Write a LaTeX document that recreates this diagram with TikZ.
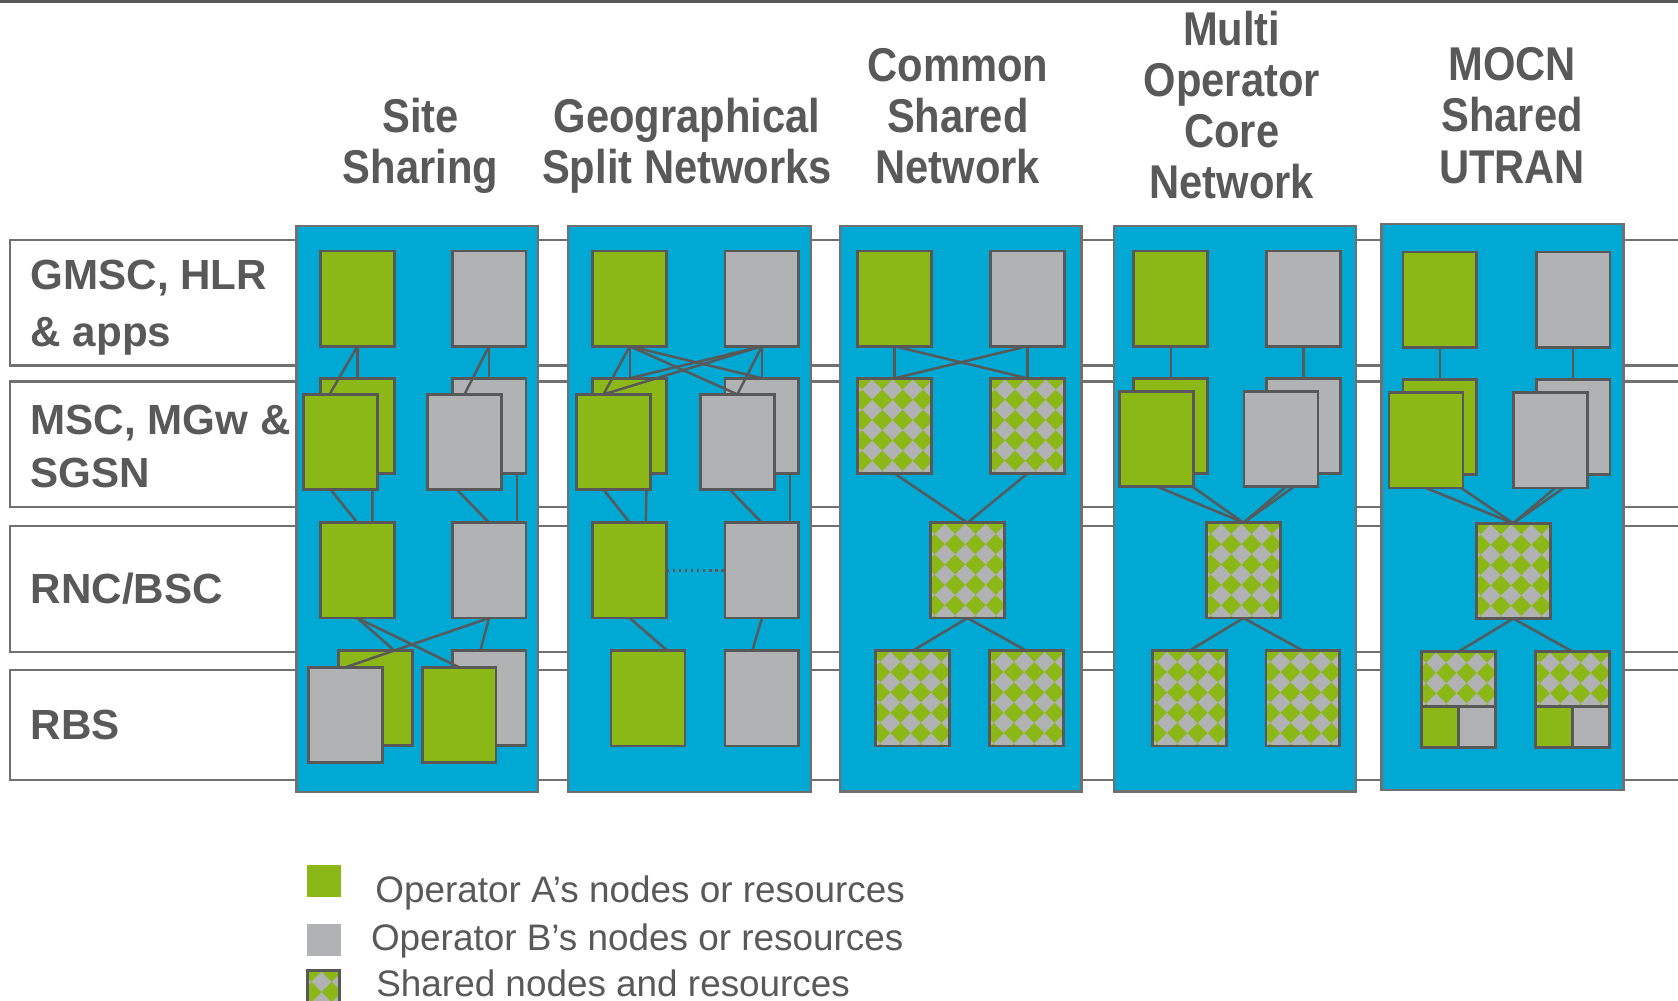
\documentclass[tikz,border=0pt]{standalone}
\usepackage{fontspec}
\setmainfont{Liberation Sans}
\newfontfamily\headfont[FakeStretch=0.88]{Liberation Sans}
\usetikzlibrary{positioning,calc}
\definecolor{opgreen}{RGB}{139,184,23}
\definecolor{opgrey}{RGB}{177,178,180}
\definecolor{panelblue}{RGB}{0,168,212}
\definecolor{edgegrey}{RGB}{88,88,88}
\definecolor{textgrey}{RGB}{89,89,89}
\definecolor{bandgrey}{RGB}{112,112,112}
\tikzset{
  unitA/.style={draw=edgegrey, fill=opgreen, line width=0.75pt,
                minimum width=0.69cm, minimum height=0.89cm,
                inner sep=0pt, outer sep=0pt},
  unitB/.style={unitA, fill=opgrey},
  unitS/.style={unitA, fill=opgrey,
    path picture={
      \foreach \i in {0,...,4}
        \foreach \j in {0,...,5}
          \fill[opgreen] ([xshift=\i*0.19cm+0.04cm, yshift=-\j*0.19cm-0.01cm]path picture bounding box.north west)
            +(-0.094cm,0) -- +(0,0.094cm) -- +(0.094cm,0) -- +(0,-0.094cm) -- cycle;
    }},
  halfunit/.style={minimum width=0.345cm, minimum height=0.39cm},
  link/.style={draw=edgegrey, line width=0.65pt},
  band/.style={draw=bandgrey, fill=white, line width=0.55pt},
  panel/.style={draw=bandgrey, fill=panelblue, line width=0.6pt},
  head/.style={text=textgrey, align=center, inner sep=0pt,
               font=\headfont\bfseries\fontsize{12.6}{13.6}\selectfont},
  rowlabel/.style={text=textgrey, align=left, anchor=west, inner sep=0pt,
                   font=\bfseries\fontsize{11.2}{14.2}\selectfont},
  legendtext/.style={text=textgrey, anchor=west, inner sep=0pt,
                     font=\fontsize{9.8}{11}\selectfont}
}

\begin{document}
\begin{tikzpicture}[x=0.01cm,y=-0.01cm]
	\useasboundingbox (0,0) rectangle (1568,935);
	\draw[edgegrey, line width=0.7pt] (0,1.2) -- (1568,1.2);

	% layers
	\draw[band] (9,224.5) rectangle (1580,341.5);
	\draw[band] (9,356.5) rectangle (1580,473.8);
	\draw[band] (9,491.5) rectangle (1580,609);
	\draw[band] (9,625.8) rectangle (1580,729);
	\node[rowlabel] (lapps) at (28,287.5) {GMSC, HLR\\[1pt]\& apps};
	\node[rowlabel] (lcore) at (28,417) {MSC, MGw \&\\SGSN};
	\node[rowlabel] (lrnc) at (28,550) {RNC/BSC};
	\node[rowlabel] (lrbs) at (28,677) {RBS};

	% columns
	\draw[panel] (277,211.5) rectangle (502.5,740);
	\draw[panel] (531,211.5) rectangle (757.5,740);
	\draw[panel] (785,211) rectangle (1010.5,739.5);
	\draw[panel] (1041,211) rectangle (1267,739.5);
	\draw[panel] (1291,209.5) rectangle (1517,738.5);
	\node[head] (tsite) at (393,136) {Site\\Sharing};
	\node[head] (tgeo) at (642,136) {Geographical\\Split Networks};
	\node[head] (tcommon) at (895,108.5) {Common\\Shared\\Network};
	\node[head] (tmocn) at (1151,98) {Multi\\Operator\\Core\\Network};
	\node[head] (tutran) at (1413,108) {MOCN\\Shared\\UTRAN};

	% site sharing
	\node[unitA] (ssA1) at (334,279) {};
	\node[unitB] (ssB1) at (457,279) {};
	\node[unitA] (ssA2b) at (334,398) {};
	\node[unitA] (ssA2) at (318,413) {};
	\node[unitB] (ssB2b) at (457,398) {};
	\node[unitB] (ssB2) at (434,413) {};
	\node[unitA] (ssA3) at (334,533) {};
	\node[unitB] (ssB3) at (457,533) {};
	\node[unitA] (ssA4b) at (351,652) {};
	\node[unitB] (ssB4b) at (457,652) {};
	\node[unitB] (ssB4) at (323,668) {};
	\node[unitA] (ssA4) at (429,668) {};
	\draw[link] (ssA1.south) -- (ssA2b.north);
	\draw[link] (ssA1.south) -- ([xshift=-0.1cm]ssA2.north);
	\draw[link] (ssB1.south) -- (ssB2b.north);
	\draw[link] (ssB1.south) -- (ssB2.north);
	\draw[link] ([xshift=-0.09cm]ssA2.south) -- (ssA3.north);
	\draw[link] ([xshift=0.3cm]ssA2.south) -- ([xshift=0.14cm]ssA3.north);
	\draw[link] ([xshift=-0.07cm]ssB2.south) -- (ssB3.north);
	\draw[link] ([xshift=0.26cm]ssB2b.south) -- ([xshift=0.26cm]ssB3.north);
	\draw[link] (ssA3.south) -- ([xshift=0.17cm]ssA4b.north);
	\draw[link] (ssA3.south) -- (ssA4.north);
	\draw[link] (ssB3.south) -- ([xshift=-0.08cm]ssB4b.north);
	\draw[link] (ssB3.south) -- (ssB4.north);

	% geographical split
	\node[unitA] (gsA1) at (588.5,279) {};
	\node[unitB] (gsB1) at (712,279) {};
	\node[unitA] (gsA2b) at (588.5,398) {};
	\node[unitB] (gsB2b) at (712,398) {};
	\node[unitA] (gsA2) at (573,413) {};
	\node[unitB] (gsB2) at (689,413) {};
	\node[unitA] (gsA3) at (588.5,533) {};
	\node[unitB] (gsB3) at (712,533) {};
	\node[unitA] (gsA4) at (605.5,652.5) {};
	\node[unitB] (gsB4) at (712,652.5) {};
	\draw[link] (gsA1.south) -- (gsA2b.north);
	\draw[link] (gsA1.south) -- ([xshift=-0.09cm]gsA2.north);
	\draw[link] (gsA1.south) -- (gsB2.north);
	\draw[link] (gsA1.south) -- (gsB2b.north);
	\draw[link] (gsB1.south) -- (gsB2b.north);
	\draw[link] (gsB1.south) -- (gsB2.north);
	\draw[link] (gsB1.south) -- (gsA2b.north);
	\draw[link] (gsB1.south) -- ([xshift=-0.09cm]gsA2.north);
	\draw[link] ([xshift=-0.09cm]gsA2.south) -- (gsA3.north);
	\draw[link] ([xshift=0.31cm]gsA2.south) -- ([xshift=0.15cm]gsA3.north);
	\draw[link] ([xshift=-0.07cm]gsB2.south) -- (gsB3.north);
	\draw[link] ([xshift=0.26cm]gsB2b.south) -- ([xshift=0.26cm]gsB3.north);
	\draw[link, line width=0.8pt, dash pattern=on 0.7pt off 0.9pt] (gsA3.east) -- (gsB3.west);
	\draw[link] (gsA3.south) -- ([xshift=0.18cm]gsA4.north);
	\draw[link] (gsB3.south) -- ([xshift=-0.09cm]gsB4.north);

	% common shared network
	\node[unitA] (csA1) at (836,279) {};
	\node[unitB] (csB1) at (960,279) {};
	\node[unitS] (csS2a) at (836,398) {};
	\node[unitS] (csS2b) at (960,398) {};
	\node[unitS] (csS3) at (904,533) {};
	\node[unitS] (csS4a) at (853,652.5) {};
	\node[unitS] (csS4b) at (959,652.5) {};
	\draw[link] (csA1.south) -- (csS2a.north);
	\draw[link] (csA1.south) -- (csS2b.north);
	\draw[link] (csB1.south) -- (csS2b.north);
	\draw[link] (csB1.south) -- (csS2a.north);
	\draw[link] (csS2a.south) -- (csS3.north);
	\draw[link] (csS2b.south) -- (csS3.north);
	\draw[link] (csS3.south) -- (csS4a.north);
	\draw[link] (csS3.south) -- (csS4b.north);

	% multi operator core network
	\node[unitA] (moA1) at (1094,279) {};
	\node[unitB] (moB1) at (1218,279) {};
	\node[unitA] (moA2b) at (1094,398) {};
	\node[unitB] (moB2b) at (1218,398) {};
	\node[unitA] (moA2) at (1081,410) {};
	\node[unitB] (moB2) at (1197,410) {};
	\node[unitS] (moS3) at (1162,533) {};
	\node[unitS] (moS4a) at (1111.5,652.5) {};
	\node[unitS] (moS4b) at (1217.5,652.5) {};
	\draw[link] (moA1.south) -- (moA2b.north);
	\draw[link] (moB1.south) -- (moB2b.north);
	\draw[link] (moA2.south) -- (moS3.north);
	\draw[link] ([xshift=0.33cm]moA2.south) -- (moS3.north);
	\draw[link] ([xshift=0.05cm]moB2.south) -- (moS3.north);
	\draw[link] ([xshift=0.125cm]moB2.south) -- (moS3.north);
	\draw[link] (moS3.south) -- (moS4a.north);
	\draw[link] (moS3.south) -- (moS4b.north);

	% mocn shared utran
	\node[unitA] (muA1) at (1345.5,280) {};
	\node[unitB] (muB1) at (1470,280) {};
	\node[unitA] (muA2b) at (1345.5,399) {};
	\node[unitB] (muB2b) at (1470,399) {};
	\node[unitA] (muA2) at (1332.5,411.5) {};
	\node[unitB] (muB2) at (1449,411.5) {};
	\node[unitS] (muS3) at (1414,533.5) {};
	\node[unitS, minimum height=0.51cm] (muS4a) at (1363,634.3) {};
	\node[unitS, minimum height=0.51cm] (muS4b) at (1469.4,634.3) {};
	\node[unitB, halfunit, below left=0cm and 0cm of muS4a.south east] (muB4a) {};
	\node[unitA, halfunit, below right=0cm and 0cm of muS4a.south west] (muA4a) {};
	\node[unitB, halfunit, below left=0cm and 0cm of muS4b.south east] (muB4b) {};
	\node[unitA, halfunit, below right=0cm and 0cm of muS4b.south west] (muA4b) {};
	\draw[link] (muA1.south) -- (muA2b.north);
	\draw[link] (muB1.south) -- (muB2b.north);
	\draw[link] (muA2.south) -- (muS3.north);
	\draw[link] ([xshift=0.33cm]muA2.south) -- (muS3.north);
	\draw[link] ([xshift=0.04cm]muB2.south) -- (muS3.north);
	\draw[link] ([xshift=0.12cm]muB2.south) -- (muS3.north);
	\draw[link] (muS3.south) -- (muS4a.north);
	\draw[link] (muS3.south) -- (muS4b.north);

	% legend
	\node[unitA, draw=none, minimum width=0.32cm, minimum height=0.30cm] (keyA) at (303,823) {};
	\node[unitB, draw=none, minimum width=0.32cm, minimum height=0.30cm] (keyB) at (303,878.5) {};
	\node[unitS, minimum width=0.30cm, minimum height=0.30cm] (keyS) at (302,922) {};
	\node[legendtext] (keyAtext) at (350,834) {Operator A’s nodes or resources};
	\node[legendtext] (keyBtext) at (346,879) {Operator B’s nodes or resources};
	\node[legendtext] (keyStext) at (351,919) {Shared nodes and resources};
\end{tikzpicture}
\end{document}
